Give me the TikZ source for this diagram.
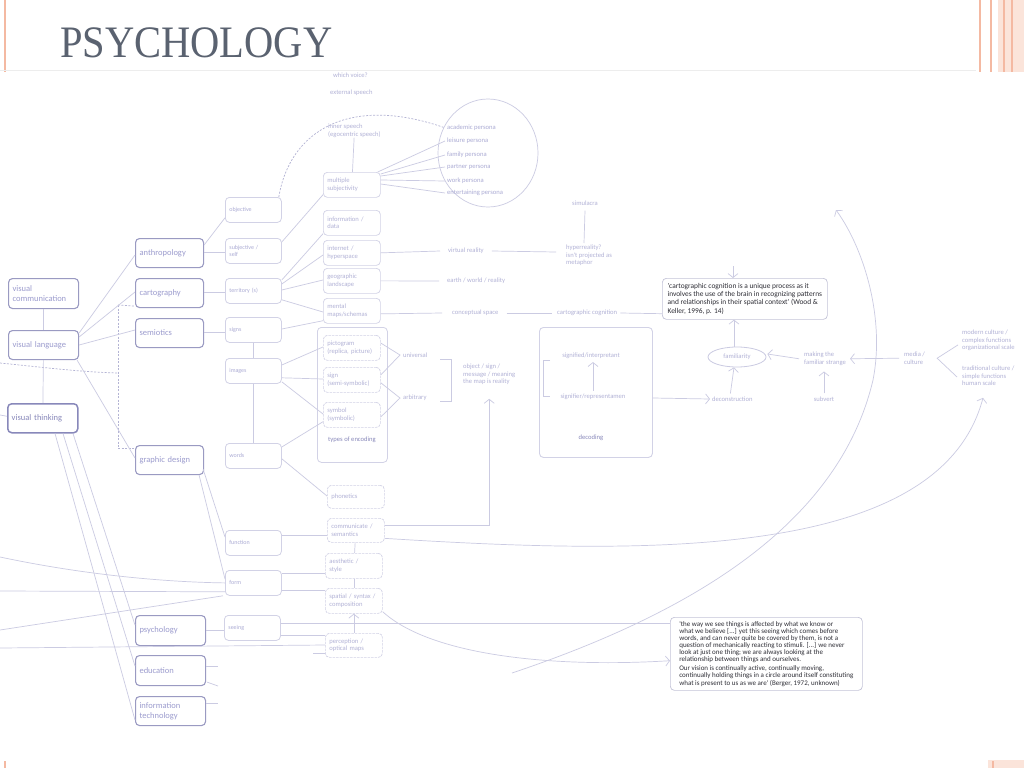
\documentclass[tikz,border=0pt]{standalone}
\usepackage{fontspec}
\newfontfamily\df{Carlito}
\newfontfamily\tf{Liberation Serif}
\usetikzlibrary{arrows.meta,calc,shapes.geometric}
\definecolor{lnc}{HTML}{CBCBE2}
\definecolor{dsc}{HTML}{B4B4D4}
\definecolor{bone}{HTML}{9A9AC2}
\definecolor{tone}{HTML}{9C9CCE}
\definecolor{btwo}{HTML}{D2D2E6}
\definecolor{ttwo}{HTML}{ABABD4}
\definecolor{tthree}{HTML}{B2B2D6}
\definecolor{qtc}{HTML}{2E2E36}
\definecolor{qbc}{HTML}{C4C4D8}
\definecolor{salm}{HTML}{F4B9A2}
\definecolor{salml}{HTML}{FBE4DA}
\definecolor{titc}{HTML}{5A6270}
\definecolor{darkl}{HTML}{8888BA}
\begin{document}
\begin{tikzpicture}[x=1pt,y=-1pt,
  ln/.style={draw=lnc, line width=0.7pt},
  dsh/.style={draw=dsc, line width=0.7pt, dash pattern=on 2pt off 1.5pt},
  arr/.style={draw=lnc, line width=0.7pt, -{Straight Barb[length=4pt,width=10pt]}},
  lone/.style={draw=bone, line width=1.1pt, rounded corners=4pt, anchor=north west, minimum height=29pt, text width=60pt, inner xsep=4pt, inner ysep=0pt, align=left, font=\df\fontsize{8.5}{9.5}\selectfont, text=tone},
  ltwo/.style={draw=btwo, line width=0.8pt, rounded corners=4pt, anchor=north west, minimum height=25pt, text width=48pt, inner xsep=4pt, inner ysep=0pt, align=left, font=\df\fontsize{6}{7}\selectfont, text=ttwo},
  lthree/.style={draw=btwo, line width=0.7pt, rounded corners=4pt, anchor=north west, minimum height=25pt, text width=49pt, inner xsep=4pt, inner ysep=0pt, align=left, font=\df\fontsize{6.6}{7.4}\selectfont, text=tthree},
  ldot/.style={lthree, dash pattern=on 2.5pt off 1pt},
  lbl/.style={inner sep=0pt, align=left, font=\df\fontsize{6.6}{7.4}\selectfont, text=tthree},
  plbl/.style={lbl, text=ttwo, anchor=west},
  qbox/.style={draw=qbc, line width=0.7pt, rounded corners=4pt, anchor=north west, align=left, inner xsep=5pt, inner ysep=3pt, text=qtc},
]
\useasboundingbox (0,0) rectangle (1024,768);
\fill[white] (0,0) rectangle (1024,768);

% slide decorations
\fill[salm] (4,0) rectangle (6,72);
\draw[black!7, line width=0.6pt] (0,70) -- (976,70);
\fill[salml] (998,0) rectangle (1024,72);
\fill[salm] (979,0) rectangle (981,72);
\fill[salm] (990,0) rectangle (992,72);
\fill[salm] (1003,0) rectangle (1005,72);
\fill[salm] (1011,0) rectangle (1012.5,72);
\fill[salml] (988,760) rectangle (1024,768);
\fill[salm] (992,761) rectangle (994,768);
\fill[salm] (4,761) rectangle (6,768);

\node[anchor=base west, inner sep=0pt, text=titc, font=\tf\fontsize{45}{45}\selectfont] (title) at (60,58) {\scalebox{0.9}[1]{PSYCHOLOGY}};

% level 1
\node[lone, text width=62pt, minimum height=30pt] (vcom) at (8,278) {visual\\communication};
\node[lone, text width=62pt] (vlang) at (8,330) {visual language};
\node[lone, text width=62pt, draw=darkl, line width=1.5pt, text=darkl] (vthink) at (7,403) {visual thinking};
\node[lone] (anth) at (135,238) {anthropology};
\node[lone] (carto) at (135,278) {cartography};
\node[lone] (semio) at (135,318) {semiotics};
\node[lone] (gdes) at (135,445) {graphic design};
\node[lone, text width=62pt, minimum height=30pt] (psych) at (135,615) {psychology};
\node[lone, text width=62pt, minimum height=30pt] (educ) at (135,655) {education};
\node[lone, text width=62pt] (infot) at (135,696) {information\\technology};

% level 2
\node[ltwo] (obj) at (225,197) {objective};
\node[ltwo] (subj) at (225,238) {subjective /\\self};
\node[ltwo] (terr) at (225,278) {territory (s)};
\node[ltwo] (signs) at (225,317) {signs};
\node[ltwo] (images) at (225,358) {images};
\node[ltwo] (words) at (225,443) {words};
\node[ltwo] (func) at (225,530) {function};
\node[ltwo] (form) at (225,570) {form};
\node[ltwo] (seeing) at (224,615) {seeing};

% level 3
\node[lthree] (msubj) at (323,172) {multiple\\subjectivity};
\node[lthree] (info) at (323,210) {information /\\data};
\node[lthree] (inet) at (323,240) {internet /\\hyperspace};
\node[lthree] (geo) at (323,268) {geographic\\landscape};
\node[lthree] (mmaps) at (323,298) {mental\\maps/schemas};
\node[draw=btwo, line width=0.8pt, rounded corners=4pt, anchor=north west, minimum width=70pt, minimum height=135pt] (encbox) at (317,327) {};
\node[ldot] (picto) at (323,335) {pictogram\\(replica,~picture)};
\node[ldot] (signn) at (323,367) {sign\\(semi-symbolic)};
\node[ldot] (symb) at (323,402) {symbol\\(symbolic)};
\node[font=\df\fontsize{6.6}{7}\selectfont, text=darkl, inner sep=0pt] (enclbl) at (352,440) {types of encoding};
\node[ldot, minimum height=23pt] (phon) at (327,485) {phonetics};
\node[ldot, minimum height=24pt] (comm) at (327,518) {communicate~/\\semantics};
\node[ldot] (aest) at (325,553) {aesthetic /\\style};
\node[ldot] (spat) at (325,588) {spatial~/~syntax~/\\composition};
\node[ldot, minimum height=24pt] (perc) at (325,633) {perception~/\\optical~maps};

% free labels
\node[lbl, anchor=west] (whichv) at (333,75) {which voice?};
\node[lbl, anchor=west] (extsp) at (330,93) {external speech};
\node[lbl, anchor=north west] (inner) at (328,124) {inner speech\\(egocentric speech)};
\node[ellipse, draw=lnc, line width=0.7pt, minimum width=100pt, minimum height=108pt, inner sep=0pt] (circ) at (488,153) {};
\node[plbl] (pacad) at (447,128) {academic persona};
\node[plbl] (pleis) at (447,141) {leisure persona};
\node[plbl] (pfam) at (447,155) {family persona};
\node[plbl] (ppart) at (447,167) {partner persona};
\node[plbl] (pwork) at (447,181) {work persona};
\node[plbl] (pent) at (447,193) {entertaining persona};

\node[lbl, anchor=west] (virt) at (448,251) {virtual reality};
\node[lbl, anchor=north west] (hyper) at (566,245) {hyperreality?\\isn't projected as\\metaphor};
\node[lbl] (simul) at (585,203) {simulacra};
\node[lbl, anchor=west] (earth) at (447,281) {earth / world / reality};
\node[lbl, anchor=west] (concept) at (452,313) {conceptual space};
\node[lbl, anchor=west] (cogn) at (557,313) {cartographic cognition};
\node[lbl, anchor=west] (univ) at (403,355) {universal};
\node[lbl, anchor=west] (arbit) at (403,398) {arbitrary};
\node[lbl, anchor=north west] (objsign) at (463,364) {object / sign /\\message / meaning\\the map is reality};

\node[draw=btwo, line width=0.9pt, rounded corners=4pt, anchor=north west, minimum width=113pt, minimum height=130pt] (dec) at (539,327) {};
\node[lbl] (signified) at (591,356) {signified/interpretant};
\node[lbl] (signifier) at (593,397) {signifier/representamen};
\node[font=\df\fontsize{6.6}{7}\selectfont, text=darkl, inner sep=0pt] (declbl) at (591,438) {decoding};

\node[lbl, anchor=west] (decon) at (712,399) {deconstruction};
\node[ellipse, draw=lnc, line width=0.8pt, minimum width=58pt, minimum height=20pt, lbl] (famil) at (737,357) {familiarity};
\node[lbl, anchor=north west] (making) at (804,352) {making the\\familiar strange};
\node[lbl] (subvert) at (824,399) {subvert};
\node[lbl, anchor=north west] (media) at (904,352) {media /\\culture};
\node[lbl, anchor=north west] (modern) at (962,330) {modern culture /\\complex functions\\organizational scale};
\node[lbl, anchor=north west] (trad) at (962,366) {traditional culture /\\simple functions\\human scale};

\node[qbox, font=\df\fontsize{7.4}{8.3}\selectfont, minimum width=165pt, minimum height=41pt] (q1) at (662,278) {'cartographic cognition is a unique process as it\\involves the use of the brain in recognizing patterns\\and relationships in their spatial context' (Wood \&\\Keller, 1996, p. 14)};
\node[qbox, font=\df\fontsize{7}{7.1}\selectfont, minimum width=192pt, minimum height=73pt] (q2) at (670,617) {'the way we see things is affected by what we know or\\what we believe [...] yet this seeing which comes before\\words, and can never quite be covered by them, is not a\\question of mechanically reacting to stimuli. [...] we never\\look at just one thing; we are always looking at the\\relationship between things and ourselves.\\[2pt]Our vision is continually active, continually moving,\\continually holding things in a circle around itself constituting\\what is present to us as we are' (Berger, 1972, unknown)};

% ---------- connectors ----------
\coordinate (dL) at (0,363);
\coordinate (dj1) at (118,305);
\coordinate (dj2) at (118,448);
\coordinate (dj3) at (118,373);
\draw[dsh] (dL) .. controls (40,367) and (80,372) .. (dj3);
\draw[dsh] (dj1) -- (dj2);
\draw[dsh] (dj1) -- ($(carto.south west)+(0,-2)$);
\draw[dsh] (dj2) -- ($(gdes.north west)+(0,3)$);

\draw[ln] (vcom) -- (vlang);
\draw[ln] (vlang) -- (vthink);
\coordinate (vtL) at (0,415);
\draw[ln] (vtL) -- ($(vthink.west)+(0,-2)$);
\draw[ln] ($(vlang.north east)+(0,3)$) -- ($(anth.north west)+(0,17)$);
\draw[ln] ($(vlang.north east)+(0,7)$) -- ($(carto.north west)+(0,14)$);
\draw[ln] ($(vlang.north east)+(0,15)$) -- ($(semio.north west)+(0,12)$);
\draw[ln] ($(vlang.south east)+(-2,0)$) -- ($(gdes.north west)+(0,13)$);
\draw[ln] ($(vthink.south west)+(48,0)$) -- ($(infot.north west)+(0,24)$);
\draw[ln] ($(vthink.south west)+(56,0)$) -- ($(educ.north west)+(0,11)$);
\draw[ln] ($(vthink.south west)+(66,0)$) -- ($(psych.north west)+(0,10)$);

\draw[ln] ($(anth.north east)+(0,7)$) -- ($(obj.south west)+(0,-5)$);
\draw[ln] ($(anth.north east)+(0,14)$) -- ($(subj.north west)+(0,14)$);
\draw[ln] ($(carto.north east)+(0,14)$) -- ($(terr.north west)+(0,14)$);
\draw[ln] ($(semio.north east)+(0,14)$) -- ($(signs.north west)+(0,15)$);
\draw[ln] (signs) -- (images);
\draw[ln] (images) -- (words);
\draw[ln] ($(gdes.south east)+(-1,-6)$) -- ($(func.north west)+(0,7)$);
\draw[ln] ($(gdes.south east)+(-5,0)$) -- ($(form.north west)+(0,9)$);
\draw[ln] ($(psych.north east)+(0,15)$) -- ($(seeing.north west)+(0,15)$);
\coordinate (e1) at (218,666);
\coordinate (e2) at (218,686);
\coordinate (i1) at (218,703);
\draw[ln] ($(educ.north east)+(0,11)$) -- (e1);
\draw[ln] ($(educ.south east)+(1,-4)$) -- (e2);
\draw[ln] ($(infot.north east)+(0,7)$) -- (i1);

\coordinate (L1) at (0,557);
\coordinate (L2) at (0,591);
\coordinate (L3) at (0,630);
\coordinate (L4) at (0,648);
\coordinate (L5) at (313,653);
\draw[ln] (L1) .. controls (80,574) and (160,582) .. (form.west);
\draw[ln] (L2) -- ($(form.south west)+(0,-4)$);
\draw[ln] (L3) -- ($(form.south west)+(-2,0)$);
\draw[ln] (L4) -- ($(perc.north west)+(0,12)$);
\draw[ln] (L5) -- ($(perc.north west)+(0,20)$);

\draw[ln] ($(subj.north east)+(0,4)$) -- ($(msubj.south west)+(0,-3)$);
\draw[dsh] ($(obj.north east)+(-3,0)$) .. controls (290,130) and (350,95) .. (circ.150);
\draw[ln] (inner) -- (msubj);
\draw[ln] ($(msubj.north east)+(-3,0)$) -- ($(pleis.west)+(-2,0)$);
\draw[ln] ($(msubj.north east)+(0,2)$) -- ($(pfam.west)+(-2,0)$);
\draw[ln] ($(msubj.north east)+(0,4)$) -- ($(ppart.west)+(-2,0)$);
\draw[ln] ($(msubj.north east)+(0,8)$) -- ($(pwork.west)+(-2,0)$);
\draw[ln] ($(msubj.north east)+(0,12)$) -- ($(pent.west)+(-2,0)$);

\draw[ln] ($(terr.north east)+(0,2)$) -- ($(info.south west)+(0,-2)$);
\draw[ln] ($(terr.north east)+(0,6)$) -- ($(inet.north west)+(0,15)$);
\draw[ln] ($(terr.north east)+(0,12)$) -- ($(geo.north west)+(0,12)$);
\draw[ln] ($(terr.south east)+(0,-4)$) -- ($(mmaps.north west)+(0,14)$);
\draw[ln] ($(signs.north east)+(0,12)$) -- ($(mmaps.south west)+(0,-3)$);
\draw[ln] ($(images.north east)+(0,7)$) -- ($(picto.north west)+(0,12)$);
\draw[ln] ($(images.south east)+(0,-6)$) -- ($(signn.north west)+(0,12)$);
\draw[ln] ($(images.south east)+(0,-2)$) -- ($(symb.north west)+(0,12)$);
\draw[ln] ($(words.north east)+(0,4)$) -- ($(symb.south west)+(0,-6)$);
\draw[ln] ($(words.south east)+(0,-10)$) -- ($(phon.north west)+(0,11)$);
\draw[ln] ($(func.north east)+(0,5)$) -- ($(comm.north west)+(0,17)$);
\draw[ln] ($(form.north east)+(0,3)$) -- ($(aest.north west)+(0,20)$);
\draw[ln] ($(form.north east)+(0,20)$) -- ($(spat.north west)+(0,2)$);
\draw[ln] ($(seeing.north east)+(0,8)$) -- ($(q2.north west)+(0,6)$);
\draw[ln] ($(seeing.north east)+(0,20)$) -- ($(perc.north west)+(0,2)$);
\draw[ln] (comm) -- (aest);
\draw[ln] (aest) -- (spat);
\draw[arr] (perc) -- (spat);

\draw[ln] (inet.east) -- ($(virt.west)+(-8,0)$);
\draw[ln] ($(virt.east)+(8,0)$) -- ($(hyper.north west)+(-10,7)$);
\draw[ln] ($(hyper.north west)+(18,-2)$) -- ($(simul.south)+(0,5)$);
\draw[ln] (geo.east) -- ($(earth.west)+(-8,0)$);
\draw[ln] ($(mmaps.east)+(0,3)$) -- ($(concept.west)+(-10,0)$);
\draw[ln] ($(concept.east)+(8,0)$) -- ($(cogn.west)+(-5,0)$);
\draw[ln] ($(cogn.east)+(3,0)$) -- ($(q1.south west)+(0,-6)$);

\draw[ln] ($(picto.north east)+(0,8)$) -- ($(univ.west)+(-3,0)$) -- ($(signn.north east)+(0,8)$);
\draw[ln] ($(signn.south east)+(0,-10)$) -- ($(arbit.west)+(-3,0)$) -- ($(symb.north east)+(0,15)$);
\coordinate (bk1) at (440,359);
\coordinate (bk2) at (440,401);
\draw[ln] (bk1) -- ++(11,0) -- ++(0,42) -- (bk2);
\coordinate (dk1) at (550,360);
\draw[ln] (dk1) -- ++(-7,0) -- ++(0,36) -- ++(7,0);
\draw[arr, shorten <=3pt, shorten >=3pt] (signifier.north) -- (signifier.north |- signified.south);

\draw[arr] ($(comm.north east)+(0,7)$) -| ($(objsign.south)+(0,14)$);
\draw[arr] ($(dec.north east)+(0,71)$) -- ($(decon.west)+(-2,0)$);
\draw[arr] ($(decon.north)+(-2,-3)$) -- ($(famil.south)+(-3,0)$);
\draw[arr] ($(famil.north)+(-3,0)$) -- ($(famil.north |- q1.south)+(-3,0)$);
\coordinate (qa) at (733,266);
\draw[arr] (qa) -- (qa |- q1.north);
\draw[arr] ($(making.west)+(-5,0)$) -- ($(famil.east)+(1,-3)$);
\draw[arr] ($(subvert.north)+(0,-3)$) -- ($(subvert.north |- making.south)+(0,6)$);
\draw[arr] ($(media.west)+(-5,0)$) -- ($(making.east)+(4,0)$);
\draw[ln] ($(modern.south west)+(-4,-6)$) -- ($(media.east)+(12,0)$) -- ($(trad.north west)+(-5,11)$);

\draw[arr] ($(comm.east)+(0,8)$) .. controls (650,555) and (940,560) .. ($(trad.south west)+(21,12)$);
\draw[arr] ($(spat.south east)+(0,-2)$) .. controls (430,655) and (550,668) .. ($(q2.south west)+(0,-30)$);
\coordinate (arcS) at (512,673);
\coordinate (arcE) at (836,210);
\draw[arr] (arcS) .. controls (700,610) and (840,520) .. (873,380) .. controls (885,320) and (865,250) .. (arcE);
\end{tikzpicture}
\end{document}
